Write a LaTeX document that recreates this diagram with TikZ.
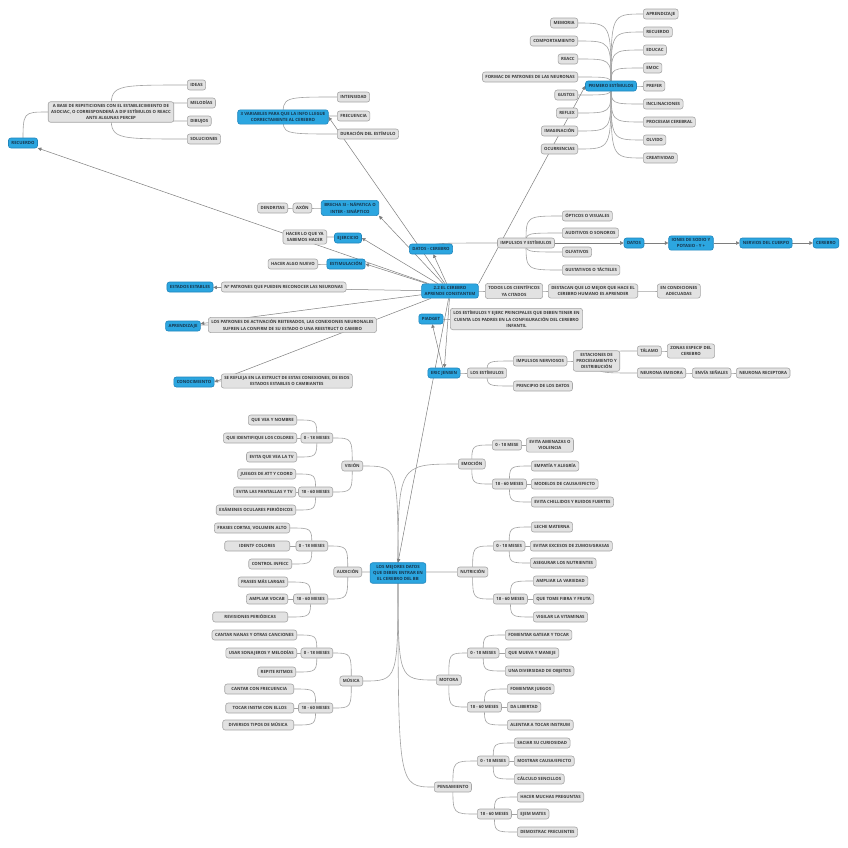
\documentclass[tikz,border=0pt]{standalone}
\usepackage{fontspec}
\setsansfont{Open Sans}
\usepackage{tikz}
\usetikzlibrary{arrows.meta,positioning,backgrounds}
\definecolor{topicfill}{HTML}{2CA6E0}
\definecolor{topicline}{HTML}{1F85BC}
\definecolor{topictext}{HTML}{17364D}
\definecolor{leaffill}{HTML}{E2E2E2}
\definecolor{leafline}{HTML}{A6A6A6}
\definecolor{leaftext}{HTML}{3A3A3A}
\definecolor{twiggray}{HTML}{A2A2A2}
\definecolor{relgray}{HTML}{7E7E7E}

\begin{document}
\begin{tikzpicture}[x=1pt,y=-1pt,
  font=\sffamily\bfseries\fontsize{4.3}{6.3}\selectfont,
  topic/.style={draw=topicline, fill=topicfill, text=topictext, rounded corners=2.5pt, align=center, inner xsep=3pt, inner ysep=2.4pt, minimum height=10pt, line width=0.6pt},
  leaf/.style={topic, draw=leafline, fill=leaffill, text=leaftext},
  twig/.style={draw=twiggray, line width=0.6pt},
  rel/.style={draw=relgray, line width=0.5pt, -{Triangle[length=3.5pt,width=3.5pt]}}]
\useasboundingbox (0,0) rectangle (848,847);
% ----- hub
\node[topic] (hub) at (450,291) {2.2 EL CEREBRO\\APRENDE CONSTANTEM};
% ----- recuerdo
\node[topic] (recu) at (23,143) {RECUERDO};
\node[leaf] (rep) at (111,112) {A BASE DE REPETICIONES CON EL ESTABLECIMIENTO DE\\ASOCIAC, O CORRESPONDERÁ A DIF ESTÍMULOS O REACC\\ANTE ALGUNAS PERCEP};
\node[leaf, anchor=west] (ideas) at (187,85) {IDEAS};
\node[leaf, anchor=west] (melod) at (187,103) {MELODÍAS};
\node[leaf, anchor=west] (dibu) at (187,121) {DIBUJOS};
\node[leaf, anchor=west] (soluc) at (187,139) {SOLUCIONES};
% ----- 3 variables
\node[topic] (vars) at (283,117) {3 VARIABLES PARA QUE LA INFO LLEGUE\\CORRECTAMENTE AL CEREBRO};
\node[leaf, anchor=west] (inten) at (337,97) {INTENSIDAD};
\node[leaf, anchor=west] (frec) at (337,116) {FRECUENCIA};
\node[leaf, anchor=west] (durac) at (337,134) {DURACIÓN DEL ESTÍMULO};
% ----- brecha, ejercicio, estimulacion
\node[topic] (brecha) at (350,208) {BRECHA SI - NÁPATICA O\\INTER - SINÁPTICO};
\node[leaf, anchor=east] (axon) at (312,208) {AXÓN};
\node[leaf, anchor=east] (dendr) at (288,208) {DENDRITAS};
\node[topic] (ejer) at (348,238) {EJERCICIO};
\node[leaf, anchor=east] (sabemos) at (327,237) {HACER LO QUE YA\\SABEMOS HACER};
\node[topic] (estim) at (346,264) {ESTIMULACIÓN};
\node[leaf, anchor=east] (nuevo) at (318,264) {HACER ALGO NUEVO};
% ----- datos - cerebro
\node[topic] (dcer) at (431,249) {DATOS - CEREBRO};
\node[leaf] (impul) at (526,243) {IMPULSOS Y ESTÍMULOS};
\node[leaf, anchor=west] (optic) at (562,216) {ÓPTICOS O VISUALES};
\node[leaf, anchor=west] (audit) at (562,233) {AUDITIVOS O SONOROS};
\node[leaf, anchor=west] (olfat) at (562,252) {OLFATIVOS};
\node[leaf, anchor=west] (gust) at (562,270) {GUSTATIVOS O TÁCTELES};
\node[topic] (datos) at (634,243) {DATOS};
\node[topic] (iones) at (691,243) {IONES DE SODIO Y\\POTASIO - Y +};
\node[topic] (nerv) at (766,243) {NERVIOS DEL CUERPO};
\node[topic] (cereb) at (826,243) {CEREBRO};
% ----- right of the hub
\node[leaf, anchor=west] (todos) at (485,291) {TODOS LOS CIENTÍFICOS\\YA CITADOS};
\node[leaf, anchor=west] (destac) at (548,291) {DESTACAN QUE LO MEJOR QUE HACE EL\\CEREBRO HUMANO ES APRENDER};
\node[leaf, anchor=west] (condic) at (657,291) {EN CONDICIONES\\ADECUADAS};
% ----- estados, aprendizaje, conocimiento
\node[topic] (estab) at (190,287) {ESTADOS ESTABLES};
\node[leaf, anchor=west] (npatr) at (221,287) {Nº PATRONES QUE PUEDEN RECONOCER LAS NEURONAS};
\node[topic] (aprend) at (183,326) {APRENDIZAJE};
\node[leaf, anchor=west] (activ) at (208,325) {LOS PATRONES DE ACTIVACIÓN REITERADOS, LAS CONEXIONES NEURONALES\\SUFREN LA CONFIRM DE SU ESTADO O UNA REESTRUCT O CAMBIO};
\node[topic] (conoc) at (194,382) {CONOCIMIENTO};
\node[leaf, anchor=west] (refleja) at (221,381) {SE REFLEJA EN LA ESTRUCT DE ESTAS CONEXIONES, DE ESOS\\ESTADOS ESTABLES O CAMBIANTES};
% ----- piadget, eric jensen
\node[topic] (piad) at (431,319) {PIADGET};
\node[leaf, anchor=west] (padres) at (450,319) {LOS ESTÍMULOS Y EJERC PRINCIPALES QUE DEBEN TENER EN\\CUENTA LOS PADRES EN LA CONFIGURACIÓN DEL CEREBRO\\INFANTIL};
\node[topic] (eric) at (444,373) {ERIC JENSEN};
\node[leaf, anchor=west] (estims) at (467,373) {LOS ESTÍMULOS};
\node[leaf, anchor=west] (nervios) at (513,361) {IMPULSOS NERVIOSOS};
\node[leaf, anchor=west] (princ) at (513,386) {PRINCIPIO DE LOS DATOS};
\node[leaf, anchor=west] (estac) at (573,361) {ESTACIONES DE\\PROCESAMIENTO Y\\DISTRIBUCIÓN};
\node[leaf, anchor=west] (talamo) at (637,351) {TÁLAMO};
\node[leaf, anchor=west] (zonas) at (667,351) {ZONAS ESPECIF DEL\\CEREBRO};
\node[leaf, anchor=west] (emis) at (637,373) {NEURONA EMISORA};
\node[leaf, anchor=west] (envia) at (692,373) {ENVÍA SEÑALES};
\node[leaf, anchor=west] (recep) at (736,373) {NEURONA RECEPTORA};
% ----- primero estimulos
\node[topic] (prim) at (611,86) {PRIMERO ESTÍMULOS};
\foreach \n/\y/\t in {memo/23/MEMORIA, compo/41/COMPORTAMIENTO, reacc/59/REACC, formac/77/FORMAC DE PATRONES DE LAS NEURONAS, gustos/95/GUSTOS, reflex/113/REFLEX, imag/131/IMAGINACIÓN, ocurr/149/OCURRENCIAS}
  \node[leaf, anchor=east] (\n) at (578,\y) {\t};
\foreach \n/\y/\t in {aprz/14/APRENDIZAJE, recd/32/RECUERDO, educ/50/EDUCAC, emoc/68/EMOC, prefer/86/PREFER, inclin/104/INCLINACIONES, procs/122/PROCESAM CEREBRAL, olvido/140/OLVIDO, creat/158/CREATIVIDAD}
  \node[leaf, anchor=west] (\n) at (643,\y) {\t};
% ----- los mejores datos
\node[topic] (mejor) at (398,573) {LOS MEJORES DATOS\\QUE DEBEN ENTRAR EN\\EL CEREBRO DEL BB};
\node[leaf, anchor=west] (emo) at (458,464) {EMOCIÓN};
\node[leaf, anchor=west] (emo1) at (492,445) {0 - 18 MESE};
\node[leaf, anchor=west] (emo2) at (492,484) {18 - 60 MESES};
\node[leaf, anchor=west] (emo1a) at (526,445) {EVITA AMENAZAS O\\VIOLENCIA};
\node[leaf, anchor=west] (emo2a) at (531,466) {EMPATÍA Y ALEGRÍA};
\node[leaf, anchor=west] (emo2b) at (531,484) {MODELOS DE CAUSA/EFECTO};
\node[leaf, anchor=west] (emo2c) at (531,502) {EVITA CHILLIDOS Y RUIDOS FUERTES};
\node[leaf, anchor=west] (nut) at (457,572) {NUTRICIÓN};
\node[leaf, anchor=west] (nut1) at (493,546) {0 - 18 MESES};
\node[leaf, anchor=west] (nut2) at (493,599) {18 - 60 MESES};
\node[leaf, anchor=west] (nut1a) at (531,527) {LECHE MATERNA};
\node[leaf, anchor=west] (nut1b) at (530,546) {EVITAR EXCESOS DE ZUMOS/GRASAS};
\node[leaf, anchor=west] (nut1c) at (530,563) {ASEGURAR LOS NUTRIENTES};
\node[leaf, anchor=west] (nut2a) at (533,581) {AMPLIAR LA VARIEDAD};
\node[leaf, anchor=west] (nut2b) at (533,599) {QUE TOME FIBRA Y FRUTA};
\node[leaf, anchor=west] (nut2c) at (533,617) {VIGILAR LA VITAMINAS};
\node[leaf, anchor=west] (mot) at (436,680) {MOTORA};
\node[leaf, anchor=west] (mot1) at (467,653) {0 - 18 MESES};
\node[leaf, anchor=west] (mot2) at (467,707) {18 - 60 MESES};
\node[leaf, anchor=west] (mot1a) at (505,635) {FOMENTAR GATEAR Y TOCAR};
\node[leaf, anchor=west] (mot1b) at (505,653) {QUE MUEVA Y MANEJE};
\node[leaf, anchor=west] (mot1c) at (505,671) {UNA DIVERSIDAD DE OBJETOS};
\node[leaf, anchor=west] (mot2a) at (507,689) {FOMENTAR JUEGOS};
\node[leaf, anchor=west] (mot2b) at (507,707) {DA LIBERTAD};
\node[leaf, anchor=west] (mot2c) at (507,725) {ALENTAR A TOCAR INSTRUM};
\node[leaf, anchor=west] (pen) at (434,787) {PENSAMIENTO};
\node[leaf, anchor=west] (pen1) at (477,761) {0 - 18 MESES};
\node[leaf, anchor=west] (pen2) at (477,814) {18 - 60 MESES};
\node[leaf, anchor=west] (pen1a) at (514,743) {SACIAR SU CURIOSIDAD};
\node[leaf, anchor=west] (pen1b) at (514,761) {MOSTRAR CAUSA/EFECTO};
\node[leaf, anchor=west] (pen1c) at (514,779) {CÁLCULO SENCILLOS};
\node[leaf, anchor=west] (pen2a) at (517,797) {HACER MUCHAS PREGUNTAS};
\node[leaf, anchor=west] (pen2b) at (517,814) {EJEM MATES};
\node[leaf, anchor=west] (pen2c) at (517,832) {DEMOSTRAC FRECUENTES};
\node[leaf, anchor=east] (vis) at (363,466) {VISIÓN};
\node[leaf, anchor=east] (vis1) at (333,438) {0 - 18 MESES};
\node[leaf, anchor=east] (vis2) at (333,492) {18 - 60 MESES};
\node[leaf, anchor=east] (vis1a) at (297,420) {QUE VEA Y NOMBRE};
\node[leaf, anchor=east] (vis1b) at (297,438) {QUE IDENTIFIQUE LOS COLORES};
\node[leaf, anchor=east] (vis1c) at (297,457) {EVITA QUE VEA LA TV};
\node[leaf, anchor=east] (vis2a) at (296,474) {JUEGOS DE ATT Y COORD};
\node[leaf, anchor=east] (vis2b) at (296,492) {EVITA LAS PANTALLAS Y TV};
\node[leaf, anchor=east] (vis2c) at (296,510) {EXÁMENES OCULARES PERIÓDICOS};
\node[leaf, anchor=east] (aud) at (362,572) {AUDICIÓN};
\node[leaf, anchor=east] (aud1) at (328,546) {0 - 18 MESES};
\node[leaf, anchor=east] (aud2) at (328,599) {18 - 60 MESES};
\node[leaf, anchor=east] (aud1a) at (290,528) {FRASES CORTAS, VOLUMEN ALTO};
\node[leaf, anchor=east, minimum width=65pt] (aud1b) at (290,546) {IDENTF COLORES};
\node[leaf, anchor=east] (aud1c) at (292,564) {CONTROL INFECC};
\node[leaf, anchor=east] (aud2a) at (288,582) {FRASES MÁS LARGAS};
\node[leaf, anchor=east] (aud2b) at (288,599) {AMPLIAR VOCAB};
\node[leaf, anchor=east, minimum width=75pt] (aud2c) at (288,617) {REVISIONES PERIÓDICAS};
\node[leaf, anchor=east] (mus) at (363,681) {MÚSICA};
\node[leaf, anchor=east] (mus1) at (333,653) {0 - 18 MESES};
\node[leaf, anchor=east] (mus2) at (333,708) {18 - 60 MESES};
\node[leaf, anchor=east] (mus1a) at (297,635) {CANTAR NANAS Y OTRAS CANCIONES};
\node[leaf, anchor=east] (mus1b) at (297,653) {USAR SONAJEROS Y MELODÍAS};
\node[leaf, anchor=east] (mus1c) at (296,672) {REPITE RITMOS};
\node[leaf, anchor=east, minimum width=69pt] (mus2a) at (294,689) {CANTAR CON FRECUENCIA};
\node[leaf, anchor=east, minimum width=68pt] (mus2b) at (294,708) {TOCAR INSTM CON ELLOS};
\node[leaf, anchor=east, minimum width=71pt] (mus2c) at (294,725) {DIVERSOS TIPOS DE MÚSICA};
% ----- connectors, under the boxes
\begin{pgfonlayer}{background}
\fill[white] (0,0) rectangle (848,847);
\foreach \p/\c in {recu/rep, rep/ideas, rep/melod, rep/dibu, rep/soluc, vars/inten, vars/frec, vars/durac,
    dcer/impul, impul/optic, impul/audit, impul/olfat, impul/gust, hub/todos, todos/destac, destac/condic,
    estab/npatr, aprend/activ, conoc/refleja, piad/padres, eric/estims, estims/nervios, estims/princ,
    nervios/estac, estac/talamo, estac/emis, talamo/zonas, emis/envia, envia/recep,
    prim/aprz, prim/recd, prim/educ, prim/emoc, prim/prefer, prim/inclin, prim/procs, prim/olvido, prim/creat,
    mejor/emo, emo/emo1, emo/emo2, emo1/emo1a, emo2/emo2a, emo2/emo2b, emo2/emo2c,
    mejor/nut, nut/nut1, nut/nut2, nut1/nut1a, nut1/nut1b, nut1/nut1c, nut2/nut2a, nut2/nut2b, nut2/nut2c,
    mejor/mot, mot/mot1, mot/mot2, mot1/mot1a, mot1/mot1b, mot1/mot1c, mot2/mot2a, mot2/mot2b, mot2/mot2c,
    mejor/pen, pen/pen1, pen/pen2, pen1/pen1a, pen1/pen1b, pen1/pen1c, pen2/pen2a, pen2/pen2b, pen2/pen2c}
  \draw[twig] (\p.center) .. controls (\p.center|-\c.west) .. (\c.west);
\foreach \p/\c in {brecha/axon, axon/dendr, ejer/sabemos, estim/nuevo,
    prim/memo, prim/compo, prim/reacc, prim/formac, prim/gustos, prim/reflex, prim/imag, prim/ocurr,
    mejor/vis, vis/vis1, vis/vis2, vis1/vis1a, vis1/vis1b, vis1/vis1c, vis2/vis2a, vis2/vis2b, vis2/vis2c,
    mejor/aud, aud/aud1, aud/aud2, aud1/aud1a, aud1/aud1b, aud1/aud1c, aud2/aud2a, aud2/aud2b, aud2/aud2c,
    mejor/mus, mus/mus1, mus/mus2, mus1/mus1a, mus1/mus1b, mus1/mus1c, mus2/mus2a, mus2/mus2b, mus2/mus2c}
  \draw[twig] (\p.center) .. controls (\p.center|-\c.east) .. (\c.east);
\foreach \t in {recu, dcer, estab, aprend, eric}
  \draw[rel] (hub) -- (\t);
\foreach \t in {vars, ejer, estim, conoc}
  \draw[rel] (hub) -- (\t.east);
\draw[rel] (hub) -- (brecha.south east);
\draw[rel] (hub.north east) -- (prim.west);
\draw[rel] (hub) -- (mejor.north);
\draw[rel] (eric) -- (piad);
\draw[rel] (impul) -- (datos);
\draw[rel] (datos) -- (iones);
\draw[rel] (iones) -- (nerv);
\draw[rel] (nerv) -- (cereb);
\end{pgfonlayer}
\end{tikzpicture}
\end{document}
